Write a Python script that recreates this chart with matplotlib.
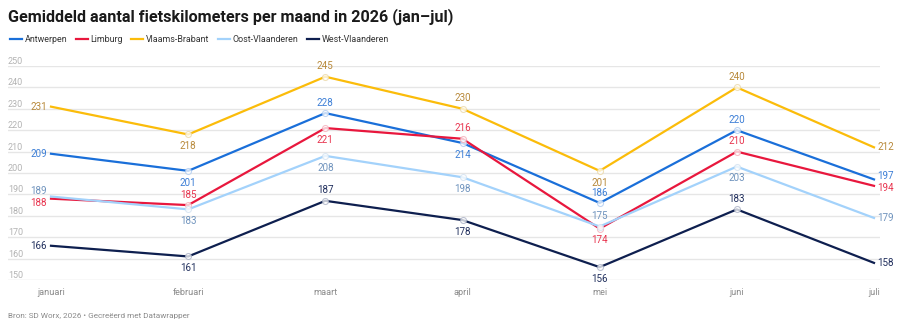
import matplotlib
matplotlib.use("Agg")
import matplotlib.pyplot as plt
from matplotlib.lines import Line2D

plt.rcParams['font.family'] = ['Roboto', 'DejaVu Sans']

months = ["januari", "februari", "maart", "april", "mei", "juni", "juli"]
regions = ["Antwerpen", "Limburg", "Vlaams-Brabant", "Oost-Vlaanderen", "West-Vlaanderen"]
antwerpen = [209, 201, 228, 214, 186, 220, 197]
limburg = [188, 185, 221, 216, 174, 210, 194]
vlaams_brabant = [231, 218, 245, 230, 201, 240, 212]
oost_vlaanderen = [189, 183, 208, 198, 175, 203, 179]
west_vlaanderen = [166, 161, 187, 178, 156, 183, 158]
y_ticks = [150, 160, 170, 180, 190, 200, 210, 220, 230, 240, 250]

series = [antwerpen, limburg, vlaams_brabant, oost_vlaanderen, west_vlaanderen]
line_colors = ["#1a6fd9", "#e8173d", "#fbbc0a", "#a3d2fb", "#0e1f4f"]
label_colors = ["#3d7fd6", "#e8354f", "#b8893a", "#6f93bd", "#22305e"]
marker_edges = ["#a9c8f0", "#f3a9b6", "#ead6a2", "#cfe0f0", "#a7aec3"]
# label placement: 'L' left, 'R' right, 'a' above, 'b' below
placement = [
    ["L", "b", "a", "b", "a", "a", "R"],
    ["L", "a", "b", "a", "b", "a", "R"],
    ["L", "b", "a", "a", "b", "a", "R"],
    ["L", "b", "b", "b", "a", "b", "R"],
    ["L", "b", "a", "b", "b", "a", "R"],
]
# extra vertical nudges (points) for end labels to avoid collisions
nudge = {(3, 0): 4.0, (1, 0): -3.0, (0, 6): 2.5, (1, 6): -1.5}

W, H = 900, 329
fig = plt.figure(figsize=(W / 100, H / 100), dpi=100)
ax_left, ax_right = 8, 880
ax_top, ax_bot = 66, 280
ax = fig.add_axes([ax_left / W, 1 - ax_bot / H, (ax_right - ax_left) / W, (ax_bot - ax_top) / H])

x = list(range(len(months)))
step = (874 - 51) / 6
ax.set_xlim(-(51 - ax_left) / step, 6 + (ax_right - 874) / step)
ax.set_ylim(150, 250)

for yt in y_ticks:
    ax.axhline(yt, color="#e6e6e6" if yt != 150 else "#dcdcdc", lw=1.0, zorder=0)
    ax.text(0.0, yt, str(yt), transform=ax.get_yaxis_transform(), ha="left", va="bottom",
            fontsize=6.5, color="#b3b3b3")

for s, vals in enumerate(series):
    ax.plot(x, vals, color=line_colors[s], lw=1.6, zorder=3, solid_joinstyle="miter")
    ax.plot(x[1:-1], vals[1:-1], ls="none", marker="o", ms=4.3, mfc="#ffffff", mec=marker_edges[s],
            mew=0.8, zorder=4, alpha=0.75)
    for i, v in enumerate(vals):
        p = placement[s][i]
        dy = nudge.get((s, i), 0.0)
        if p == "L":
            off, ha = (-3, dy), "right"
        elif p == "R":
            off, ha = (2.5, dy), "left"
        elif p == "a":
            off, ha = (0, 7.5), "center"
        else:
            off, ha = (0, -8.5), "center"
        ax.annotate(str(v), (i, v), xytext=off, textcoords="offset points",
                    ha=ha, va="center", fontsize=7.1, color=label_colors[s])

ax.set_xticks(x)
ax.set_xticklabels(months, fontsize=6.6, color="#8a8a8a")
ax.set_yticks([])
ax.tick_params(axis="x", length=0, pad=6)
for sp in ax.spines.values():
    sp.set_visible(False)

fig.text(8 / W, 1 - 17 / H, "Gemiddeld aantal fietskilometers per maand in 2026 (jan\u2013jul)",
         fontsize=11.6, fontweight="bold", color="#1a1a1a", ha="left", va="center")

handles = [Line2D([], [], color=c, lw=1.6) for c in line_colors]
fig.legend(handles, regions, loc="center left", bbox_to_anchor=(2 / W, 1 - 40 / H), ncol=5,
           frameon=False, fontsize=6.4, handlelength=1.35, handletextpad=0.3, columnspacing=0.95,
           labelcolor="#333333")

fig.text(8 / W, 1 - 316 / H, "Bron: SD Worx, 2026 \u2022 Gecre\u00eberd met Datawrapper",
         fontsize=5.9, color="#8a8a8a", ha="left", va="center")

fig.savefig("out.png", dpi=100, facecolor="white")
